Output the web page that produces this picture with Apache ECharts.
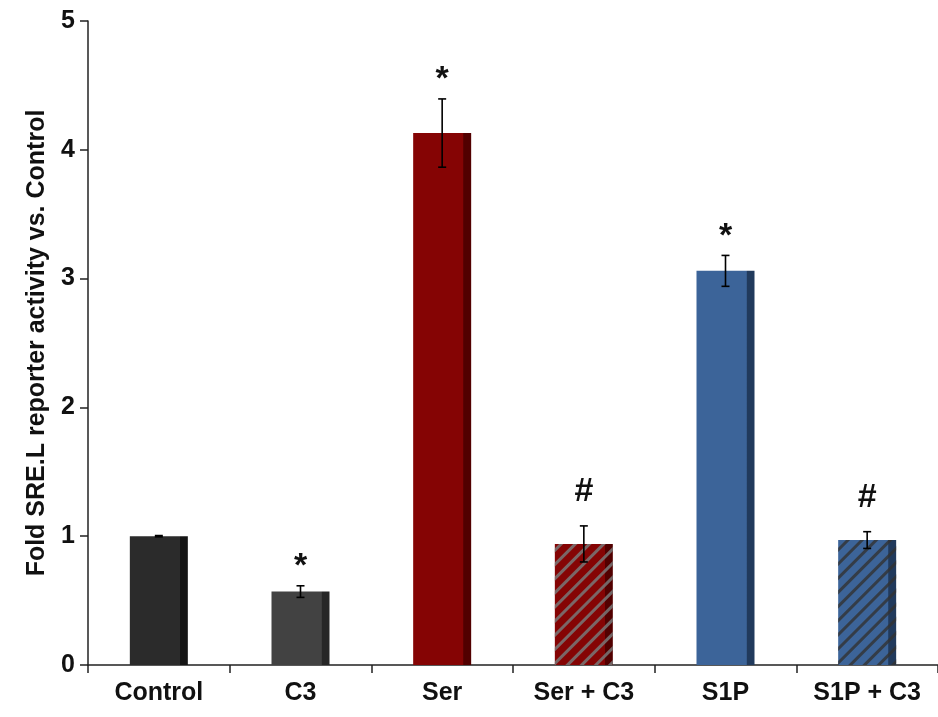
<!DOCTYPE html>
<html lang="en">
<head>
    <meta charset="UTF-8">
    <title>Fold SRE.L reporter activity</title>
    <script type="text/javascript" src="https://cdn.jsdelivr.net/npm/echarts@6/dist/echarts.min.js"></script>
    <style>
        html, body { margin: 0; padding: 0; background: #fff; }
        #main { width: 938px; height: 717px; }
    </style>
</head>
<body>
<div id="main"></div>
<script type="text/javascript">
    // data
    var categories = ['Control', 'C3', 'Ser', 'Ser + C3', 'S1P', 'S1P + C3'];
    var values = [1.0, 0.57, 4.13, 0.94, 3.06, 0.97];
    var errors = [0.005, 0.045, 0.265, 0.14, 0.12, 0.065];
    var marks = ['', '*', '*', '#', '*', '#'];
    var yTicks = [0, 1, 2, 3, 4, 5];

    var baseColors = ['#2b2b2b', '#424242', '#850404', '#850404', '#3c6499', '#3c6499'];
    var darkColors = ['#151515', '#262626', '#520000', '#520000', '#213a5c', '#213a5c'];
    var hatched = [false, false, false, true, false, true];
    var stripeColors = ['', '', 'rgba(120,120,120,0.85)', 'rgba(120,120,120,0.85)', 'rgba(50,50,50,0.8)', 'rgba(50,50,50,0.8)'];

    var font = '"Liberation Sans", Arial, sans-serif';

    var barData = [];
    for (var i = 0; i < values.length; i++) {
        var style = {
            color: new echarts.graphic.LinearGradient(0, 0, 1, 0, [
                {offset: 0, color: baseColors[i]},
                {offset: 0.86, color: baseColors[i]},
                {offset: 0.87, color: darkColors[i]},
                {offset: 1, color: darkColors[i]}
            ])
        };
        if (hatched[i]) {
            style.decal = {
                symbol: 'rect',
                symbolSize: 1,
                color: stripeColors[i],
                dashArrayX: [1, 0],
                dashArrayY: [3, 7],
                rotation: -Math.PI / 4
            };
        }
        barData.push({value: values[i], itemStyle: style});
    }

    var errData = [];
    for (var j = 0; j < values.length; j++) {
        errData.push([j, values[j] - errors[j], values[j] + errors[j], marks[j]]);
    }

    var myChart = echarts.init(document.getElementById('main'));
    var option = {
        animation: false,
        grid: {left: 88, width: 857, top: 21, height: 644},
        xAxis: {
            type: 'category',
            data: categories,
            axisLine: {lineStyle: {color: '#222', width: 1.5}},
            axisTick: {show: true, length: 8, lineStyle: {color: '#222', width: 1.5}},
            axisLabel: {color: '#111', fontFamily: font, fontWeight: 'bold', fontSize: 25, margin: 16}
        },
        yAxis: {
            type: 'value',
            min: 0,
            max: 5,
            interval: 1,
            name: 'Fold SRE.L reporter activity vs. Control',
            nameLocation: 'middle',
            nameGap: 38,
            nameTextStyle: {color: '#111', fontFamily: font, fontWeight: 'bold', fontSize: 25},
            splitLine: {show: false},
            axisLine: {show: true, lineStyle: {color: '#222', width: 1.5}},
            axisTick: {show: true, length: 8, lineStyle: {color: '#222', width: 1.5}},
            axisLabel: {
                color: '#111', fontFamily: font, fontWeight: 'bold', fontSize: 25, margin: 13,
                formatter: function (v) { return yTicks.indexOf(v) >= 0 ? String(v) : ''; }
            }
        },
        series: [
            {
                type: 'bar',
                data: barData,
                barWidth: 58
            },
            {
                type: 'custom',
                data: errData,
                z: 10,
                renderItem: function (params, api) {
                    var x = api.coord([api.value(0), 0])[0];
                    var lo = api.coord([api.value(0), api.value(1)])[1];
                    var hi = api.coord([api.value(0), api.value(2)])[1];
                    var cap = 4;
                    var ls = {stroke: '#000', lineWidth: 1.6};
                    var mark = errData[params.dataIndex][3];
                    var children = [
                        {type: 'line', shape: {x1: x, y1: lo, x2: x, y2: hi}, style: ls},
                        {type: 'line', shape: {x1: x - cap, y1: lo, x2: x + cap, y2: lo}, style: ls},
                        {type: 'line', shape: {x1: x - cap, y1: hi, x2: x + cap, y2: hi}, style: ls}
                    ];
                    if (mark) {
                        children.push({
                            type: 'text',
                            x: x,
                            y: mark === '*' ? hi - 2 : hi - 17,
                            style: {
                                text: mark,
                                fill: '#111',
                                font: 'bold 34px ' + font,
                                textAlign: 'center',
                                textVerticalAlign: 'bottom'
                            }
                        });
                    }
                    return {type: 'group', children: children};
                }
            }
        ]
    };
    myChart.setOption(option);
</script>
</body>
</html>
